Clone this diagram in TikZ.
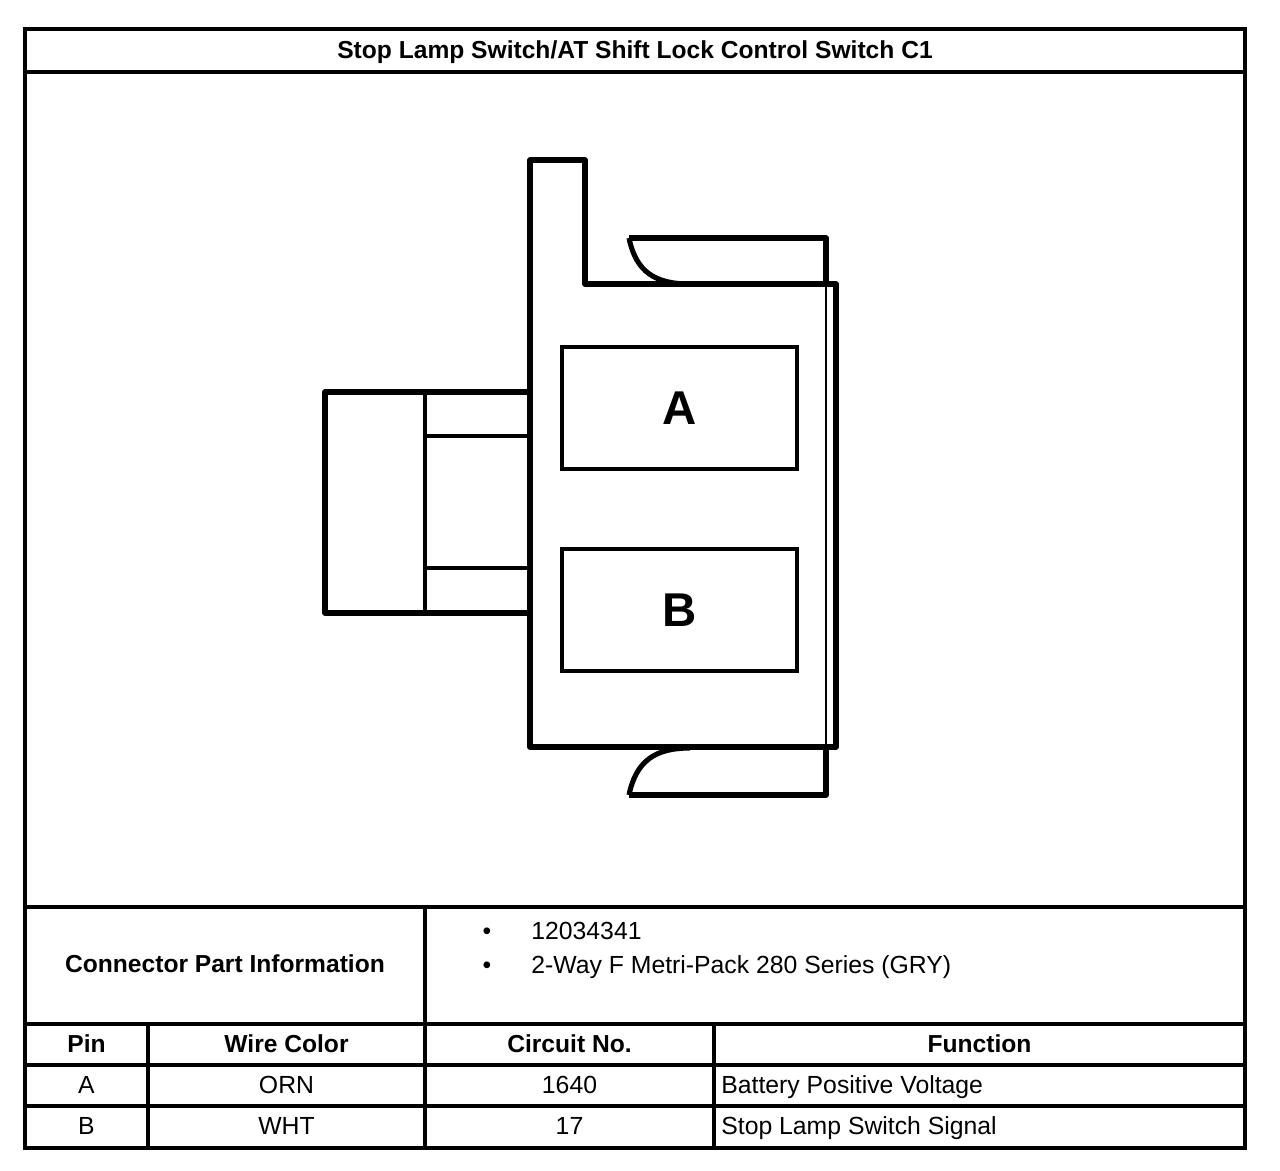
\documentclass[tikz,border=0pt]{standalone}
\usepackage{fontspec}
\setmainfont{Liberation Sans}
\usetikzlibrary{positioning}
\tikzstyle{frame} = [line width=1.8pt]
\tikzstyle{body} = [line width=2.9pt, line join=round]
\tikzstyle{thinbody} = [line width=1.5pt]
\tikzstyle{tabline} = [line width=2pt]
\tikzstyle{cavity} = [rectangle, draw, line width=2.3pt, minimum width=4.7cm, minimum height=2.44cm, font=\fontsize{27}{32}\selectfont\bfseries]
\tikzstyle{headtext} = [inner sep=0pt, text height=0.89em, text depth=0pt, font=\fontsize{14}{17}\selectfont\bfseries]
\tikzstyle{celltext} = [inner sep=0pt, text height=0.89em, text depth=0pt, font=\fontsize{14.1}{17}\selectfont]

\begin{document}
\begin{tikzpicture}[x=0.02cm, y=-0.02cm, node distance=0.82cm]
	\useasboundingbox (0,0) rectangle (1280,1170);

	% frame and table rules
	\draw [frame] (25,29) rectangle (1245,1148);
	\draw [frame] (25,72) -- (1245,72);
	\draw [frame] (25,907) -- (1245,907);
	\draw [frame] (25,1024) -- (1245,1024);
	\draw [frame] (25,1065) -- (1245,1065);
	\draw [frame] (25,1106) -- (1245,1106);
	\draw [frame] (425,907) -- (425,1148);
	\draw [frame] (148,1024) -- (148,1148);
	\draw [frame] (714,1024) -- (714,1148);

	% connector housing
	\draw [body] (530,747) -- (530,160) -- (585,160) -- (585,284) -- (836,284) -- (836,747) -- cycle;
	\draw [thinbody] (826,284) -- (826,747);
	\draw [body] (629,238) -- (826,238) -- (826,284);
	\draw [body] (629,238) .. controls (636,272) and (655,284) .. (690,284);
	\draw [body] (629,795) -- (826,795) -- (826,747);
	\draw [body] (629,795) .. controls (636,761) and (655,748) .. (690,748);

	% latch tab
	\draw [body] (530,392) -- (325,392) -- (325,613) -- (530,613);
	\draw [tabline] (425,392) -- (425,613);
	\draw [tabline] (425,436) -- (530,436);
	\draw [tabline] (425,568) -- (530,568);

	% cavities
	\node (cavA) [cavity] at (679.5,408) {A};
	\node (cavB) [cavity] at (679.5,610) {B};

	% texts
	\node (title) [headtext] at (635,51) {Stop Lamp Switch/AT Shift Lock Control Switch C1};
	\node (partinfo) [headtext] at (225,965) {Connector Part Information};
	\node (bullone) [celltext] at (487,932) {•};
	\node (bulltwo) [celltext, below of=bullone, node distance=0.68cm] {•};
	\node (partno) [celltext, anchor=west] at (531,932) {12034341};
	\node (partname) [celltext, anchor=west] at (531,966) {2-Way F Metri-Pack 280 Series (GRY)};

	\node (hpin) [headtext] at (86.5,1045) {Pin};
	\node (hwire) [headtext] at (286.5,1045) {Wire Color};
	\node (hcirc) [headtext] at (569.5,1045) {Circuit No.};
	\node (hfunc) [headtext] at (979.5,1045) {Function};

	\node (pinA) [celltext, below of=hpin] {A};
	\node (wireA) [celltext, below of=hwire] {ORN};
	\node (circA) [celltext, below of=hcirc] {1640};
	\node (funcA) [celltext, anchor=west] at (721,1086) {Battery Positive Voltage};

	\node (pinB) [celltext, below of=pinA] {B};
	\node (wireB) [celltext, below of=wireA] {WHT};
	\node (circB) [celltext, below of=circA] {17};
	\node (funcB) [celltext, anchor=west] at (721,1127) {Stop Lamp Switch Signal};
\end{tikzpicture}
\end{document}
